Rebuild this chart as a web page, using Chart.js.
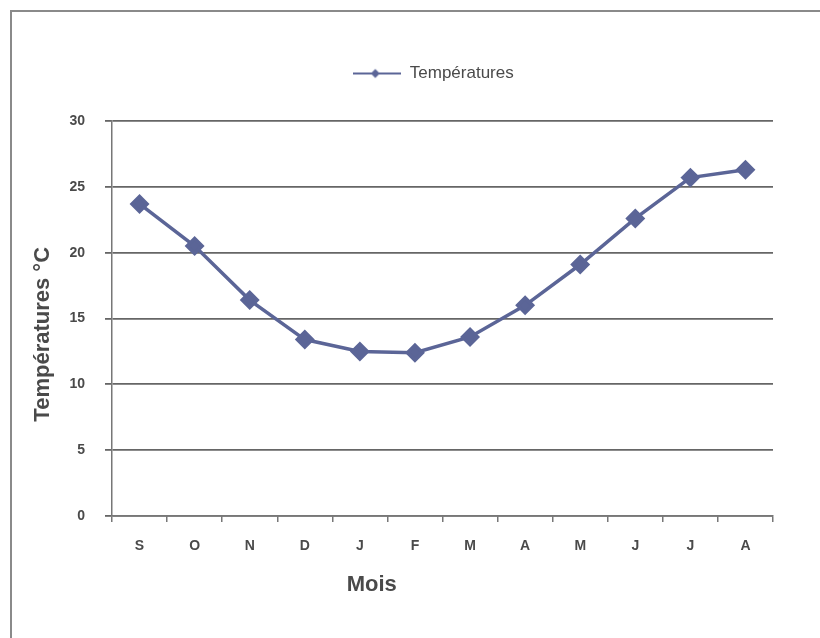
<!DOCTYPE html>
<html>
<head>
<meta charset="utf-8">
<script src="https://cdn.jsdelivr.net/npm/chart.js@4/dist/chart.umd.min.js"></script>
<style>
    body { margin: 0; background: #fff; }
    .wrap { position: relative; width: 820px; height: 638px; overflow: hidden; }
    .frame { position: absolute; left: 10px; top: 10px; width: 830px; height: 650px;
        border-left: 2px solid #8a8a8a; border-top: 2px solid #8a8a8a; }
    canvas { position: absolute; left: 0; top: 0; }
</style>
</head>
<body>
<div class="wrap">
    <div class="frame"></div>
    <canvas id="myChart" width="820" height="638"></canvas>
</div>
<script>
// data
const months = ['S', 'O', 'N', 'D', 'J', 'F', 'M', 'A', 'M', 'J', 'J', 'A'];
const temperatures = [23.7, 20.5, 16.4, 13.4, 12.5, 12.4, 13.6, 16.0, 19.1, 22.6, 25.7, 26.3];
const yTicks = [0, 5, 10, 15, 20, 25, 30];

const lineColor = '#5b6597';
const textColor = '#4a4a4a';
const font = "'Liberation Sans', Arial, sans-serif";

// legend marker : line with a small diamond
const marker = document.createElement('canvas');
marker.width = 48;
marker.height = 14;
const mctx = marker.getContext('2d');
mctx.strokeStyle = lineColor;
mctx.lineWidth = 2;
mctx.beginPath();
mctx.moveTo(0, 7);
mctx.lineTo(48, 7);
mctx.stroke();
mctx.fillStyle = lineColor;
mctx.beginPath();
mctx.moveTo(22, 2.5);
mctx.lineTo(26.5, 7);
mctx.lineTo(22, 11.5);
mctx.lineTo(17.5, 7);
mctx.closePath();
mctx.fill();

const legendSize = {
    id: 'legendSize',
    beforeInit(chart) {
        const fit = chart.legend.fit;
        chart.legend.fit = function () {
            fit.bind(chart.legend)();
            this.height = 66;
        };
    },
    afterLayout(chart) {
        chart.legend.left -= 9;
        chart.legend.right -= 9;
    }
};

// axis titles, placed off-centre like in the original
const axisTitles = {
    id: 'axisTitles',
    afterDraw(chart) {
        const {ctx, chartArea} = chart;
        const w = chartArea.right - chartArea.left;
        const h = chartArea.bottom - chartArea.top;
        ctx.save();
        ctx.font = 'bold 22px ' + font;
        ctx.fillStyle = textColor;
        ctx.textAlign = 'center';
        ctx.textBaseline = 'middle';
        ctx.fillText('Mois', chartArea.left + 0.393 * w, chartArea.bottom + 69);
        ctx.translate(43, chartArea.top + 0.540 * h);
        ctx.rotate(-Math.PI / 2);
        ctx.fillText('Températures °C', 0, 0);
        ctx.restore();
    }
};

const data = {
    labels: months,
    datasets: [{
        label: 'Températures',
        data: temperatures,
        borderColor: lineColor,
        backgroundColor: lineColor,
        borderWidth: 3.5,
        pointStyle: 'rectRot',
        pointRadius: 7.5,
        pointHoverRadius: 7.5,
        pointBackgroundColor: lineColor,
        pointBorderColor: lineColor,
        tension: 0,
    }]
};

const config = {
    type: 'line',
    data: data,
    options: {
        responsive: false,
        animation: false,
        layout: {
            padding: {left: 30, right: 47, top: 55, bottom: 32}
        },
        scales: {
            x: {
                offset: true,
                grid: {
                    offset: true,
                    drawOnChartArea: false,
                    tickLength: 6,
                    color: '#777',
                    lineWidth: 1.5,
                },
                border: {color: '#777', width: 1.5},
                ticks: {
                    padding: 16,
                    color: textColor,
                    font: {family: font, size: 14, weight: 'bold'}
                },
                afterFit(scale) {
                    scale.height = 90;
                }
            },
            y: {
                min: 0,
                max: 30,
                afterBuildTicks(scale) {
                    scale.ticks = yTicks.map(v => ({value: v}));
                },
                grid: {
                    color: '#666',
                    lineWidth: 1.8,
                    tickLength: 7,
                },
                border: {color: '#777', width: 1.5},
                ticks: {
                    padding: 20,
                    color: textColor,
                    font: {family: font, size: 14, weight: 'bold'}
                },
                afterFit(scale) {
                    scale.width = 82;
                }
            }
        },
        plugins: {
            legend: {
                position: 'top',
                fullSize: false,
                labels: {
                    usePointStyle: true,
                    pointStyle: marker,
                    pointStyleWidth: 48,
                    boxHeight: 14,
                    padding: 10,
                    color: textColor,
                    font: {family: font, size: 17},
                    generateLabels(chart) {
                        return [{
                            text: 'Températures',
                            pointStyle: marker,
                            fillStyle: lineColor,
                            strokeStyle: lineColor,
                            lineWidth: 0,
                            datasetIndex: 0,
                            fontColor: textColor
                        }];
                    }
                }
            },
            tooltip: {enabled: false}
        }
    },
    plugins: [legendSize, axisTitles]
};

const myChart = new Chart(
    document.getElementById('myChart'),
    config
);
</script>
</body>
</html>
